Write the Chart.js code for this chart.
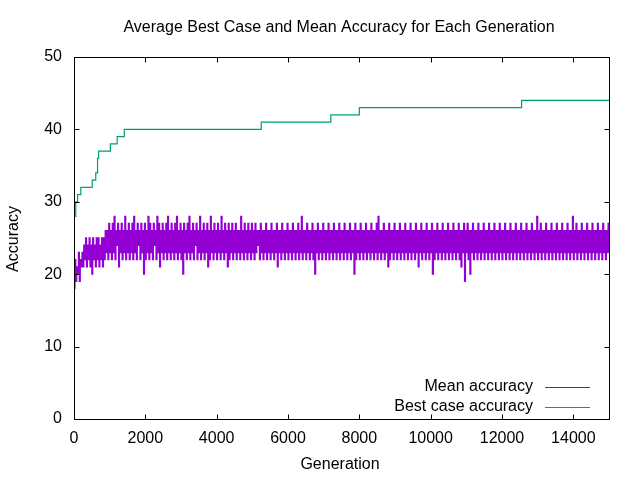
<!DOCTYPE html>
<html>
<head>
<meta charset="utf-8">
<title>Average Best Case and Mean Accuracy</title>
<script src="https://cdn.jsdelivr.net/npm/chart.js@4.4.1/dist/chart.umd.min.js"></script>
<style>
    html, body { margin: 0; padding: 0; background: #fff; }
    canvas { display: block; }
</style>
</head>
<body>
<canvas id="accChart" width="640" height="480"></canvas>
<script>
// ============================================
// Accuracy per generation – gnuplot look-alike
// ============================================

// ── Data ─────────────────────────────────
const chartTitle = 'Average Best Case and Mean Accuracy for Each Generation';
const xTicks = [0, 2000, 4000, 6000, 8000, 10000, 12000, 14000];
const yTicks = [0, 10, 20, 30, 40, 50];

// mean accuracy, one reading every 25 generations (0 .. 15000), 500 gens per row
const meanStep = 25;
const meanVals = [
    18,22,19,21,20,23,19,22,21,23,21,24,22,25,21,24,22,25,21,24,
    20,25,22,24,21,25,22,25,21,24,22,25,21,25,22,26,23,26,22,27,
    23,26,22,27,23,28,22,26,24,27,21,26,23,27,22,26,23,28,22,26,
    23,27,22,26,23,27,22,28,23,26,22,27,24,26,22,27,23,26,20,27,
    22,26,23,28,22,27,23,26,22,27,24,26,22,28,23,27,21,26,23,27,
    22,26,23,27,22,28,23,26,22,27,23,26,22,27,23,28,22,26,23,27,
    22,26,20,27,23,26,22,27,23,28,22,26,23,27,22,26,24,27,22,26,
    23,28,22,26,23,27,22,26,23,27,21,26,22,28,23,26,22,27,23,26,
    22,27,23,26,22,28,23,26,22,27,23,26,21,27,22,26,23,27,22,26,
    23,27,22,26,23,26,22,28,23,26,22,27,23,26,22,27,23,26,22,27,
    23,26,22,27,23,26,24,26,22,27,23,26,22,26,23,27,22,26,23,26,
    22,27,23,26,22,26,23,27,21,26,23,26,22,27,23,26,22,26,23,27,
    22,26,23,26,22,27,23,26,22,26,23,27,22,26,23,28,22,26,23,26,
    22,27,23,26,22,26,23,27,22,26,20,26,23,27,22,26,23,26,22,27,
    23,26,22,26,23,27,22,26,23,26,22,27,23,26,22,26,23,27,22,26,
    23,26,22,27,23,26,22,26,23,27,22,26,23,26,20,27,22,26,23,26,
    22,27,23,26,22,26,23,27,22,26,23,26,22,27,23,26,22,26,23,27,
    22,28,23,26,22,26,23,27,22,26,23,26,21,27,22,26,23,26,22,27,
    23,26,22,26,23,27,22,26,23,26,22,27,23,26,22,26,23,27,22,26,
    23,26,22,27,23,26,21,26,23,27,22,26,23,26,22,27,23,26,22,26,
    23,27,20,26,22,26,23,27,22,26,23,26,22,27,23,26,22,26,23,27,
    22,26,23,26,22,27,23,26,22,26,23,27,22,26,21,26,23,27,19,26,
    23,27,22,26,20,26,23,27,22,26,23,26,22,27,23,26,22,26,23,27,
    22,26,23,26,22,27,23,26,22,26,23,27,22,26,23,26,22,27,23,26,
    22,26,23,27,22,26,23,26,22,27,23,26,22,26,23,27,22,26,23,26,
    22,27,23,26,22,26,23,27,22,26,23,26,22,27,23,26,22,26,23,28,
    22,26,23,27,22,26,23,26,22,27,23,26,22,26,23,27,22,26,23,26,
    22,27,23,26,22,26,23,27,22,26,23,26,22,27,23,26,22,26,23,28,
    22,26,23,27,22,26,23,26,22,27,23,26,22,26,23,27,22,26,23,26,
    22,27,23,26,22,26,23,27,22,26,23,26,22,27,23,26,22,26,23,27,
    23
];

// best case accuracy, generations where it changes
const bestGens = [0, 50, 100, 190, 510, 610, 660, 690, 1020, 1210, 1410, 5250, 7200, 8000, 12550, 15000];
const bestVals = [28, 30, 31, 32, 33, 34, 36, 37, 38, 39, 40, 41, 42, 43, 44, 44];

const seriesNames  = ['Mean accuracy', 'Best case accuracy'];
const seriesColors = ['#9400d3', '#009e73'];

// ── Frame, ticks, labels, key ────────────
const FONT = '16px "Liberation Sans", Arial, sans-serif';

const gnuplotFrame = {
    id: 'gnuplotFrame',
    afterDraw(chart) {
        const ctx  = chart.ctx;
        const area = chart.chartArea;
        const xs   = chart.scales.x;
        const ys   = chart.scales.y;
        const tl   = 5;
        const L = Math.round(area.left) + 0.5, R = Math.round(area.right) + 0.5;
        const T = Math.round(area.top) + 0.5,  B = Math.round(area.bottom) + 0.5;

        ctx.save();
        ctx.strokeStyle = '#000';
        ctx.lineWidth = 1;
        ctx.beginPath();
        yTicks.forEach(v => {
            const py = Math.round(ys.getPixelForValue(v)) + 0.5;
            ctx.moveTo(L, py); ctx.lineTo(L + tl, py);
            ctx.moveTo(R, py); ctx.lineTo(R - tl, py);
        });
        xTicks.forEach(v => {
            const px = Math.round(xs.getPixelForValue(v)) + 0.5;
            ctx.moveTo(px, B); ctx.lineTo(px, B - tl);
            ctx.moveTo(px, T); ctx.lineTo(px, T + tl);
        });
        ctx.stroke();
        ctx.strokeRect(L, T, R - L, B - T);

        ctx.fillStyle = '#000';
        ctx.font = FONT;
        ctx.textBaseline = 'middle';
        ctx.textAlign = 'right';
        yTicks.forEach(v => ctx.fillText(String(v), area.left - 12, ys.getPixelForValue(v)));
        ctx.textAlign = 'center';
        xTicks.forEach(v => ctx.fillText(String(v), xs.getPixelForValue(v), B + 19));

        ctx.fillText(chartTitle, 339, 28);
        ctx.fillText('Generation', 340, 465);
        ctx.save();
        ctx.translate(14, 239);
        ctx.rotate(-Math.PI / 2);
        ctx.fillText('Accuracy', 0, 0);
        ctx.restore();

        // key, bottom right inside the frame
        seriesNames.forEach((name, i) => {
            const ky = 387 + i * 19.5;
            ctx.fillStyle = '#000';
            ctx.textAlign = 'right';
            ctx.fillText(name, 533, ky);
            ctx.strokeStyle = seriesColors[i];
            ctx.lineWidth = 1;
            ctx.beginPath();
            ctx.moveTo(545, Math.round(ky) + 0.5);
            ctx.lineTo(590, Math.round(ky) + 0.5);
            ctx.stroke();
        });
        ctx.restore();
    }
};

// ── Chart ────────────────────────────────
const meanPoints = meanVals.map((v, i) => ({ x: i * meanStep, y: v }));
const bestPoints = bestGens.map((g, i) => ({ x: g, y: bestVals[i] }));

new Chart(document.getElementById('accChart'), {
    type: 'line',
    data: {
        datasets: [
            { label: seriesNames[0], data: meanPoints, borderColor: seriesColors[0], borderWidth: 1.3,
              pointRadius: 0, stepped: 'before' },
            { label: seriesNames[1], data: bestPoints, borderColor: seriesColors[1], borderWidth: 1.2,
              pointRadius: 0, stepped: 'before' },
        ]
    },
    options: {
        responsive: false,
        animation: false,
        events: [],
        layout: { padding: { left: 74, right: 31, top: 57, bottom: 61 } },
        plugins: { legend: { display: false }, tooltip: { enabled: false }, title: { display: false } },
        scales: {
            x: { type: 'linear', min: 0, max: 15000, display: false },
            y: { type: 'linear', min: 0, max: 50, display: false }
        }
    },
    plugins: [gnuplotFrame]
});
</script>
</body>
</html>
